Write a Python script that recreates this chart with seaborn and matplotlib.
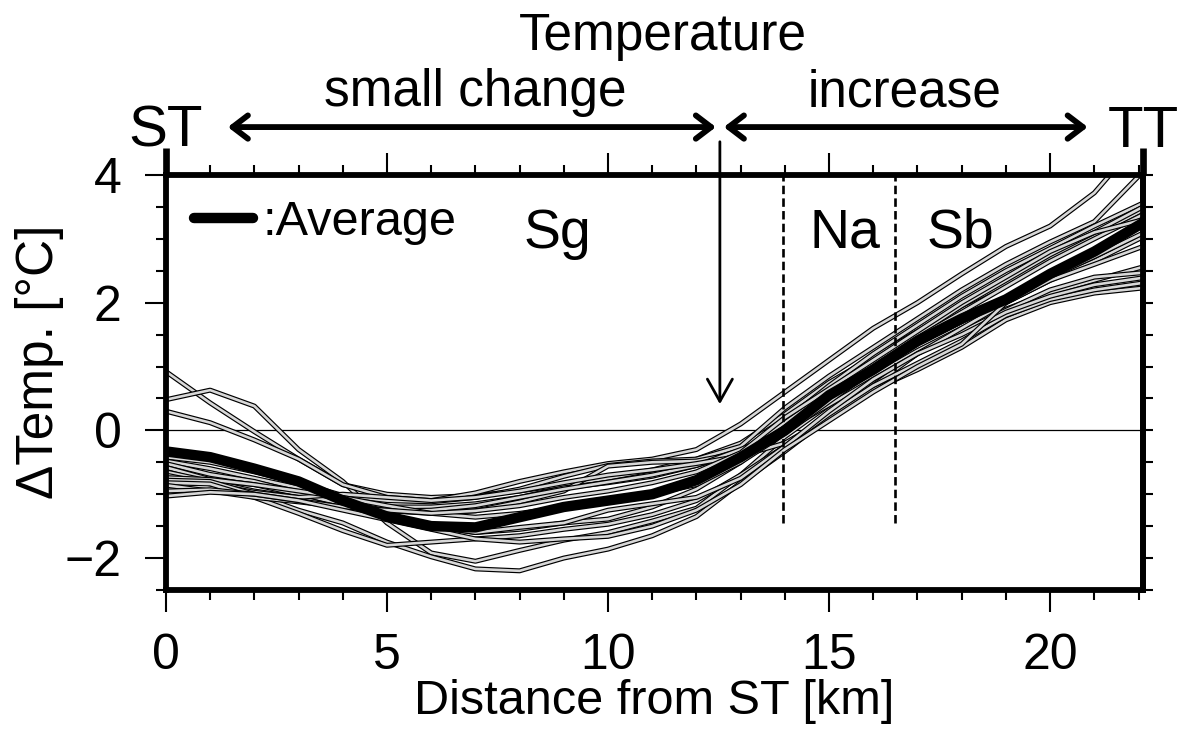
import numpy as np
import pandas as pd
import matplotlib
matplotlib.use("Agg")
import matplotlib.pyplot as plt
import matplotlib.patheffects as pe
from matplotlib.ticker import MultipleLocator
import seaborn as sns

# Distance along the route [km]
distance_km = [0, 1, 2, 3, 4, 5, 6, 7, 8, 9, 10, 11, 12, 13, 14, 15, 16, 17, 18, 19, 20, 21, 22.1]

# Temperature difference of each run [degC]
p01 = [0.92, 0.43, -0.02, -0.45, -0.85, -1.00, -1.05, -1.02, -0.95, -0.85, -0.75, -0.62, -0.45, -0.20, 0.25, 0.75, 1.15, 1.55, 1.95, 2.30, 2.70, 3.05, 3.45]
p02 = [0.48, 0.63, 0.38, -0.30, -0.80, -1.45, -1.92, -2.05, -1.88, -1.72, -1.60, -1.42, -1.22, -0.70, -0.10, 0.40, 0.85, 1.25, 1.60, 1.90, 2.15, 2.35, 2.56]
p03 = [0.30, 0.12, -0.15, -0.45, -0.85, -1.05, -1.10, -0.98, -0.80, -0.65, -0.52, -0.45, -0.30, 0.10, 0.60, 1.10, 1.60, 2.00, 2.45, 2.88, 3.20, 3.72, 4.60]
p04 = [-0.42, -0.50, -0.65, -0.82, -1.02, -1.10, -1.12, -1.05, -0.92, -0.72, -0.55, -0.48, -0.45, -0.25, 0.35, 0.85, 1.30, 1.75, 2.20, 2.60, 2.95, 3.27, 4.05]
p05 = [-0.48, -0.60, -0.75, -0.90, -1.10, -1.20, -1.20, -1.15, -1.05, -0.90, -0.82, -0.72, -0.55, -0.35, 0.15, 0.70, 1.20, 1.65, 2.10, 2.50, 2.85, 3.20, 3.56]
p06 = [-0.52, -0.69, -0.80, -0.98, -1.12, -1.26, -1.30, -1.26, -1.12, -0.95, -0.56, -0.50, -0.48, -0.35, 0.12, 0.60, 1.05, 1.50, 1.95, 2.35, 2.75, 3.10, 3.50]
p07 = [-0.58, -0.77, -0.85, -1.00, -1.15, -1.30, -1.50, -1.60, -1.55, -1.45, -1.39, -1.20, -0.92, -0.50, 0.05, 0.55, 1.00, 1.45, 1.85, 2.25, 2.65, 3.00, 3.38]
p08 = [-0.65, -0.80, -0.95, -1.05, -1.23, -1.26, -1.25, -1.18, -1.05, -0.92, -0.81, -0.70, -0.55, -0.30, 0.00, 0.40, 0.80, 1.20, 1.55, 1.88, 2.20, 2.40, 2.47]
p09 = [-0.70, -0.84, -0.97, -1.05, -1.00, -1.05, -1.10, -1.05, -0.95, -0.82, -0.70, -0.62, -0.52, -0.40, -0.20, 0.20, 0.70, 1.20, 1.60, 2.00, 2.35, 2.65, 3.03]
p10 = [-0.74, -0.77, -0.85, -0.95, -1.05, -1.18, -1.30, -1.36, -1.30, -1.20, -1.10, -1.00, -0.85, -0.50, -0.05, 0.45, 0.95, 1.35, 1.70, 2.05, 2.40, 2.72, 3.09]
p11 = [-0.78, -0.80, -1.00, -1.25, -1.45, -1.75, -1.98, -2.17, -2.20, -2.00, -1.86, -1.65, -1.35, -0.82, -0.33, 0.20, 0.64, 0.95, 1.30, 1.73, 2.00, 2.15, 2.23]
p12 = [-0.82, -0.84, -1.05, -1.30, -1.57, -1.80, -1.75, -1.70, -1.65, -1.55, -1.47, -1.32, -1.10, -0.70, -0.25, 0.25, 0.70, 1.05, 1.40, 1.80, 2.05, 2.20, 2.31]
p13 = [-0.86, -0.95, -1.05, -1.12, -1.20, -1.35, -1.50, -1.60, -1.52, -1.45, -1.25, -1.15, -1.05, -0.75, -0.25, 0.30, 0.80, 1.20, 1.50, 1.85, 2.10, 2.28, 2.39]
p14 = [-0.95, -0.93, -1.00, -1.10, -1.20, -1.25, -1.30, -1.26, -1.18, -1.05, -0.95, -0.82, -0.65, -0.35, 0.20, 0.65, 1.10, 1.55, 2.00, 2.40, 2.80, 3.10, 3.30]
p15 = [-1.03, -0.97, -1.00, -1.10, -1.25, -1.40, -1.55, -1.70, -1.75, -1.70, -1.66, -1.50, -1.25, -0.85, -0.30, 0.15, 0.60, 1.00, 1.35, 2.00, 2.35, 2.60, 2.88]

# Mean profile [degC]
average_dT = [-0.33, -0.42, -0.60, -0.80, -1.10, -1.35, -1.50, -1.52, -1.36, -1.20, -1.10, -1.00, -0.78, -0.42, 0.00, 0.55, 0.95, 1.40, 1.75, 2.05, 2.45, 2.80, 3.25]

profiles = [p01, p02, p03, p04, p05, p06, p07, p08, p09, p10, p11, p12, p13, p14, p15]

# Section boundaries and turning point [km]
boundary_na = 13.96
boundary_sb = 16.49
turning_point = 12.53

runs = pd.DataFrame(
    [(i, d, v) for i, prof in enumerate(profiles) for d, v in zip(distance_km, prof)],
    columns=["run", "distance", "dT"],
)
mean_df = pd.DataFrame({"distance": distance_km, "dT": average_dT})

sns.set_theme(style="ticks")
plt.rcParams["font.family"] = ["Liberation Sans", "DejaVu Sans"]
plt.rcParams["axes.unicode_minus"] = True
for key in ("text.color", "axes.labelcolor", "xtick.color", "ytick.color",
            "axes.edgecolor"):
    plt.rcParams[key] = "black"

fig = plt.figure(figsize=(11.87, 7.29), dpi=100)
ax = fig.add_axes([0.1398, 0.1907, 0.8231, 0.5693])

ax.axhline(0, color="black", lw=0.9, zorder=1)

sns.lineplot(data=runs, x="distance", y="dT", units="run", estimator=None,
             color="#d8d8d8", lw=1.9, ax=ax, zorder=2, legend=False)
for ln in ax.lines[1:]:
    ln.set_path_effects([pe.Stroke(linewidth=3.6, foreground="black"), pe.Normal()])

sns.lineplot(data=mean_df, x="distance", y="dT", color="black", lw=7.5,
             ax=ax, zorder=3, label=":Average")

ax.vlines([boundary_na, boundary_sb], -1.45, 4, colors="black", lw=1.9,
          linestyles=(0, (3.2, 1.6)), zorder=4)

ax.set_xlim(0, 22.1)
ax.set_ylim(-2.5, 4)
ax.xaxis.set_major_locator(MultipleLocator(5))
ax.xaxis.set_minor_locator(MultipleLocator(1))
ax.yaxis.set_major_locator(MultipleLocator(2))
ax.yaxis.set_minor_locator(MultipleLocator(0.5))

for s in ax.spines.values():
    s.set_linewidth(4.2)
    s.set_color("black")
    s.set_zorder(5)

ax.tick_params(axis="x", which="both", top=True, bottom=True, direction="out",
               width=1.5, color="black")
ax.tick_params(axis="x", which="major", length=16, labelsize=36, pad=15)
ax.tick_params(axis="x", which="minor", length=7)
ax.tick_params(axis="y", which="both", left=True, right=False, direction="out",
               width=1.5, color="black")
ax.tick_params(axis="y", which="major", length=15, labelsize=36, pad=17)
ax.tick_params(axis="y", which="minor", length=7)

# Right-hand frame: short ticks every 0.5 degC, no labels
right = ax.secondary_yaxis("right")
right.set_yticks(np.arange(-2.5, 4.01, 0.5))
right.tick_params(axis="y", direction="out", length=7, width=1.5,
                  color="black", labelright=False)
right.spines["right"].set_linewidth(4.2)

ax.set_xlabel("Distance from ST [km]", fontsize=35, labelpad=0)
ax.set_ylabel("ΔTemp. [°C]", fontsize=37)
ax.yaxis.set_label_coords(-0.104, 0.55)

ax.legend(loc="center left", bbox_to_anchor=(0.029, 0.885), frameon=False,
          fontsize=35, handlelength=1.2, handletextpad=0.2, borderpad=0,
          borderaxespad=0)

# Section names
for name, xc in [("Sg", 8.85), ("Na", 15.36), ("Sb", 17.96)]:
    ax.text(xc, 2.86, name, fontsize=40, ha="center", va="baseline")

# Station markers above the frame
ax.vlines([0, 22.1], 4, 4.42, colors="black", lw=4.8, clip_on=False)
ax.text(0, 4.44, "ST", fontsize=42, ha="center", va="baseline", clip_on=False)
ax.text(22.1, 4.44, "TT", fontsize=42, ha="center", va="baseline", clip_on=False)

# Trend annotations
arrow_kw = dict(arrowstyle="<->, head_length=0.55, head_width=0.42",
                color="black", lw=4.2, mutation_scale=20, shrinkA=0, shrinkB=0)
ax.annotate("", xy=(1.4, 4.75), xytext=(12.44, 4.75), arrowprops=arrow_kw,
            annotation_clip=False)
ax.annotate("", xy=(12.62, 4.75), xytext=(20.85, 4.75), arrowprops=arrow_kw,
            annotation_clip=False)
ax.annotate("", xy=(turning_point, 0.41), xytext=(turning_point, 4.52),
            arrowprops=dict(arrowstyle="->, head_length=0.8, head_width=0.45",
                            color="black", lw=2.0, mutation_scale=20,
                            shrinkA=0, shrinkB=0),
            annotation_clip=False, zorder=4)
ax.text(11.25, 5.96, "Temperature", fontsize=37, ha="center", va="baseline")
ax.text(6.99, 5.08, "small change", fontsize=37, ha="center", va="baseline")
ax.text(16.7, 5.08, "increase", fontsize=37, ha="center", va="baseline")

fig.savefig("out.png", dpi=100)
